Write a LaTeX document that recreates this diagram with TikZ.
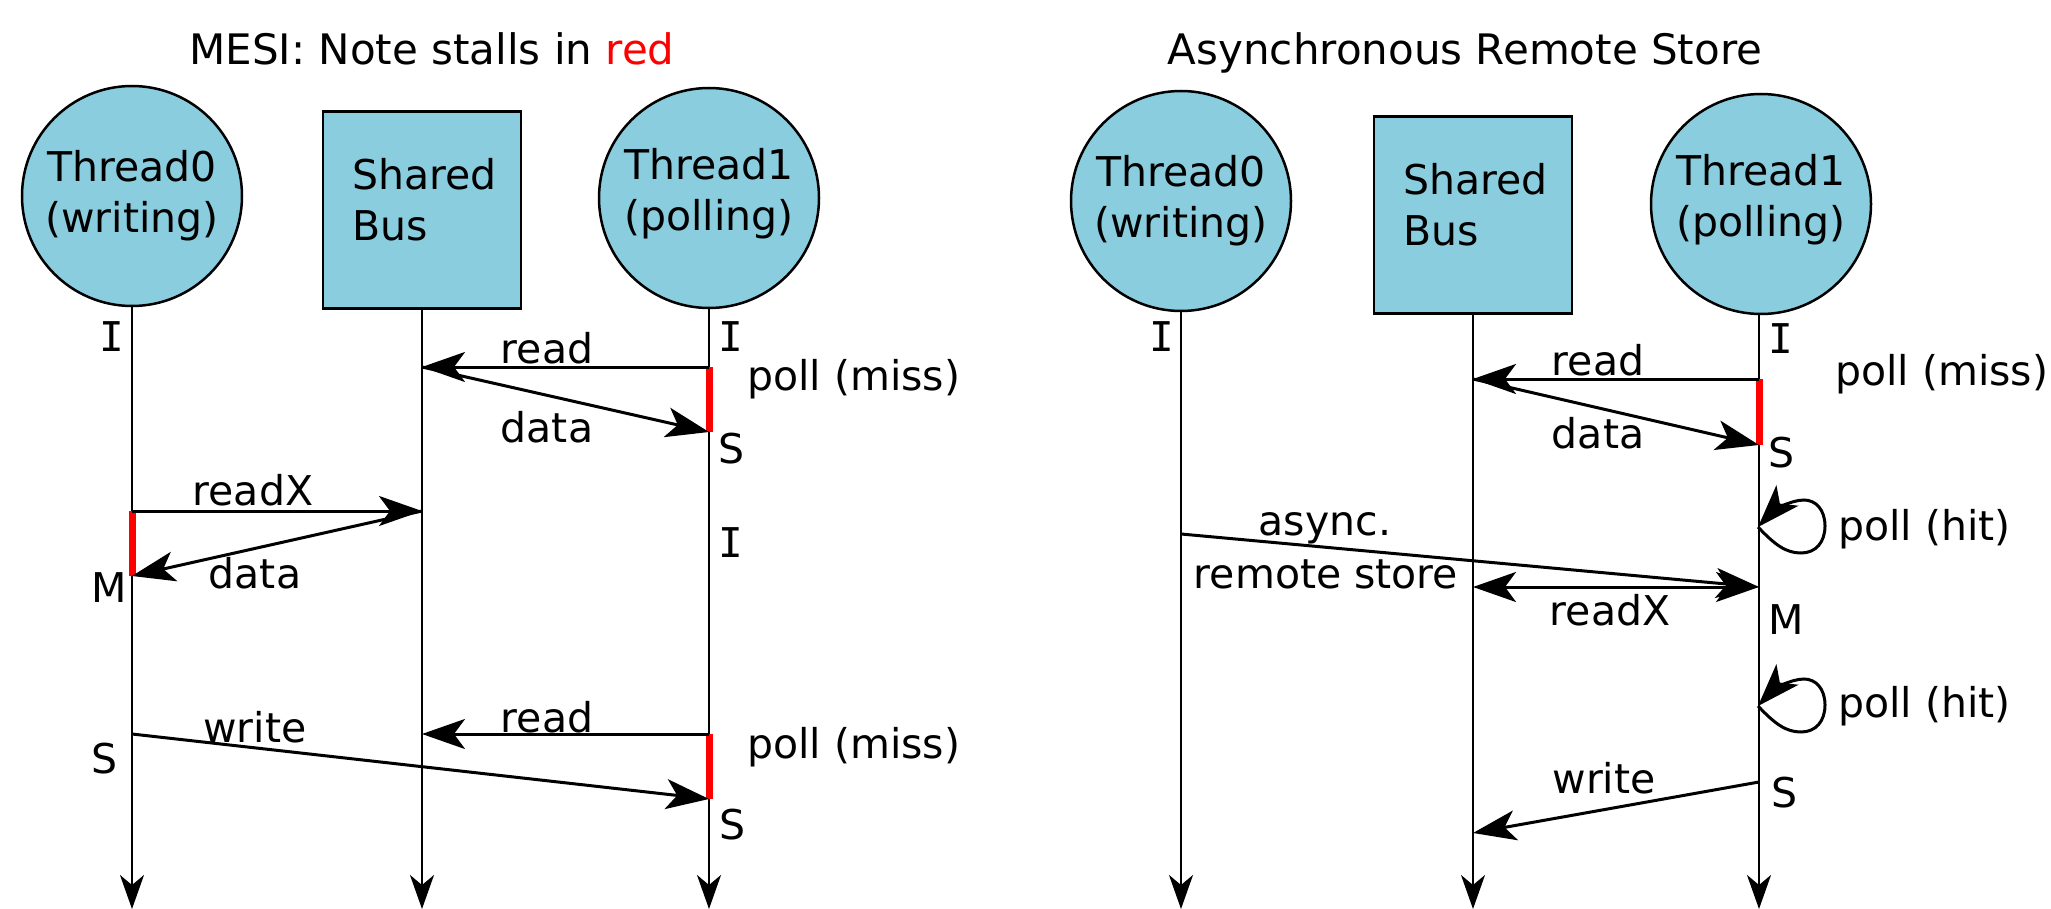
\documentclass[tikz,border=0pt]{standalone}
\usepackage{fontspec}
\setmainfont{DejaVu Sans}
\newfontfamily\stfont{DejaVu Sans Mono}
\usetikzlibrary{arrows.meta}
\definecolor{nodefill}{RGB}{137,205,222}
\begin{document}
\begin{tikzpicture}[x=1pt,y=-1pt,
  thread/.style={circle, draw=black, line width=2.5pt, fill=nodefill, minimum size=220pt, inner sep=0pt, align=center, font=\fontsize{41}{51}\selectfont},
  busbox/.style={rectangle, draw=black, line width=2.5pt, fill=nodefill, minimum width=198pt, minimum height=197pt, inner sep=0pt},
  txt/.style={font=\fontsize{41}{51}\selectfont, inner sep=0pt, anchor=base},
  ttl/.style={font=\fontsize{42}{51}\selectfont, inner sep=0pt, anchor=base},
  istate/.style={font=\stfont\fontsize{41}{51}\selectfont, inner sep=0pt, anchor=base},
  life/.style={line width=2pt, -{Stealth[length=34pt, width=24pt, inset=10pt]}},
  msg/.style={line width=3pt, -{Stealth[length=43pt, width=30pt, inset=11pt]}},
  dmsg/.style={line width=3pt, {Stealth[length=43pt, width=30pt, inset=11pt]}-{Stealth[length=43pt, width=30pt, inset=11pt]}},
  stall/.style={draw=red, line width=7pt}
]
\useasboundingbox (0,0) rectangle (2051,909);

% ================= LEFT: MESI =================
\node[ttl] (titleL) at (432,65) {MESI: Note stalls in \textcolor{red}{red}};

\node[thread] (t0L) at (132,196) {Thread0\\(writing)};
\node[busbox] (busL) at (422,210) {};
\node[txt, anchor=north west, align=left] (busLtxt) at (352,158) {Shared\\Bus};
\node[thread] (t1L) at (709,198) {Thread1\\(polling)\rule[-18pt]{0pt}{18pt}};

\coordinate (eA0) at (132,909);
\coordinate (eB0) at (422,909);
\coordinate (eC0) at (709,909);
\draw[life] (t0L) -- (eA0);
\draw[life] (busL) -- (eB0);
\draw[life] (t1L) -- (eC0);

% events
\coordinate (r1s) at (709,367);
\coordinate (r1e) at (422,367);
\coordinate (d1e) at (709,432);
\coordinate (xs) at (132,511);
\coordinate (xe) at (422,511);
\coordinate (d2e) at (132,576);
\coordinate (r2s) at (709,734);
\coordinate (r2e) at (422,734);
\coordinate (ws) at (132,734);
\coordinate (we) at (709,799);

\draw[stall] (r1s) -- (d1e);
\draw[stall] (xs) -- (d2e);
\draw[stall] (r2s) -- (we);

\draw[msg] (r1s) -- (r1e);
\draw[msg] (r1e) -- (d1e);
\draw[msg] (xs) -- (xe);
\draw[msg] (xe) -- (d2e);
\draw[msg] (r2s) -- (r2e);
\draw[msg] (ws) -- (we);

% labels
\node[istate] (sIa) at (112,352) {I};
\node[istate] (sIc) at (731,352) {I};
\node[txt] (lread1) at (547,363) {read};
\node[txt] (ldata1) at (547,442) {data};
\node[txt, anchor=base west] (lpoll1) at (747,390) {poll (miss)};
\node[txt] (sSc1) at (732,463) {S};
\node[txt] (lreadx) at (253,505) {readX};
\node[txt] (ldata2) at (255,588) {data};
\node[txt] (sMa) at (109,602) {M};
\node[istate] (sIc2) at (731,557) {I};
\node[txt] (lwrite) at (255,742) {write};
\node[txt] (sSa) at (105,773) {S};
\node[txt] (lread2) at (547,732) {read};
\node[txt, anchor=base west] (lpoll2) at (747,758) {poll (miss)};
\node[txt] (sSc2) at (733,839) {S};

% ================= RIGHT: Async remote store =================
\node[ttl] (titleR) at (1465,65) {Asynchronous Remote Store};

\node[thread] (t0R) at (1181,201) {Thread0\\(writing)};
\node[busbox] (busR) at (1473,215) {};
\node[txt, anchor=north west, align=left] (busRtxt) at (1403,163) {Shared\\Bus};
\node[thread] (t1R) at (1761,204) {Thread1\\(polling)\rule[-18pt]{0pt}{18pt}};

\coordinate (eA1) at (1181,909);
\coordinate (eB1) at (1473,909);
\coordinate (eC1) at (1759,909);
\draw[life] (t0R) -- (eA1);
\draw[life] (busR) -- (eB1);
\draw[life] (t1R.south -| eC1) -- (eC1);

\coordinate (rr1s) at (1759,379);
\coordinate (rr1e) at (1473,379);
\coordinate (rd1e) at (1759,445);
\coordinate (lp1) at (1758,527);
\coordinate (as) at (1181,534);
\coordinate (ae) at (1759,587);
\coordinate (rxb) at (1473,587);
\coordinate (lp2) at (1758,706);
\coordinate (rws) at (1759,782);
\coordinate (rwe) at (1473,833);

\draw[stall] (rr1s) -- (rd1e);
\draw[msg] (rr1s) -- (rr1e);
\draw[msg] (rr1e) -- (rd1e);

\draw[msg] (lp1) .. controls (1775,545) and (1786,553) .. (1801,553)
   .. controls (1816,553) and (1825,542) .. (1825,526)
   .. controls (1825,510) and (1816,500) .. (1804,500)
   .. controls (1790,500) and (1772,512) .. (lp1);
\draw[msg] (lp2) .. controls (1775,724) and (1786,732) .. (1801,732)
   .. controls (1816,732) and (1825,721) .. (1825,705)
   .. controls (1825,689) and (1816,679) .. (1804,679)
   .. controls (1790,679) and (1772,691) .. (lp2);

\draw[msg] (as) -- (ae);
\draw[dmsg] (rxb) -- (ae);
\draw[msg] (rws) -- (rwe);

\node[istate] (rsIa) at (1162,352) {I};
\node[istate] (rsIc) at (1781,353) {I};
\node[txt] (rread) at (1598,375) {read};
\node[txt] (rdata) at (1598,448) {data};
\node[txt, anchor=base west] (rpoll) at (1835,385) {poll (miss)};
\node[txt] (rsS1) at (1781,467) {S};
\node[txt, anchor=base west] (rhit1) at (1838,540) {poll (hit)};
\node[txt] (rasync) at (1325,535) {async.};
\node[txt] (rremote) at (1326,588) {remote store};
\node[txt] (rreadx) at (1610,625) {readX};
\node[txt] (rsM) at (1786,634) {M};
\node[txt, anchor=base west] (rhit2) at (1838,717) {poll (hit)};
\node[txt] (rwrite) at (1604,793) {write};
\node[txt] (rsS2) at (1784,807) {S};
\end{tikzpicture}
\end{document}
